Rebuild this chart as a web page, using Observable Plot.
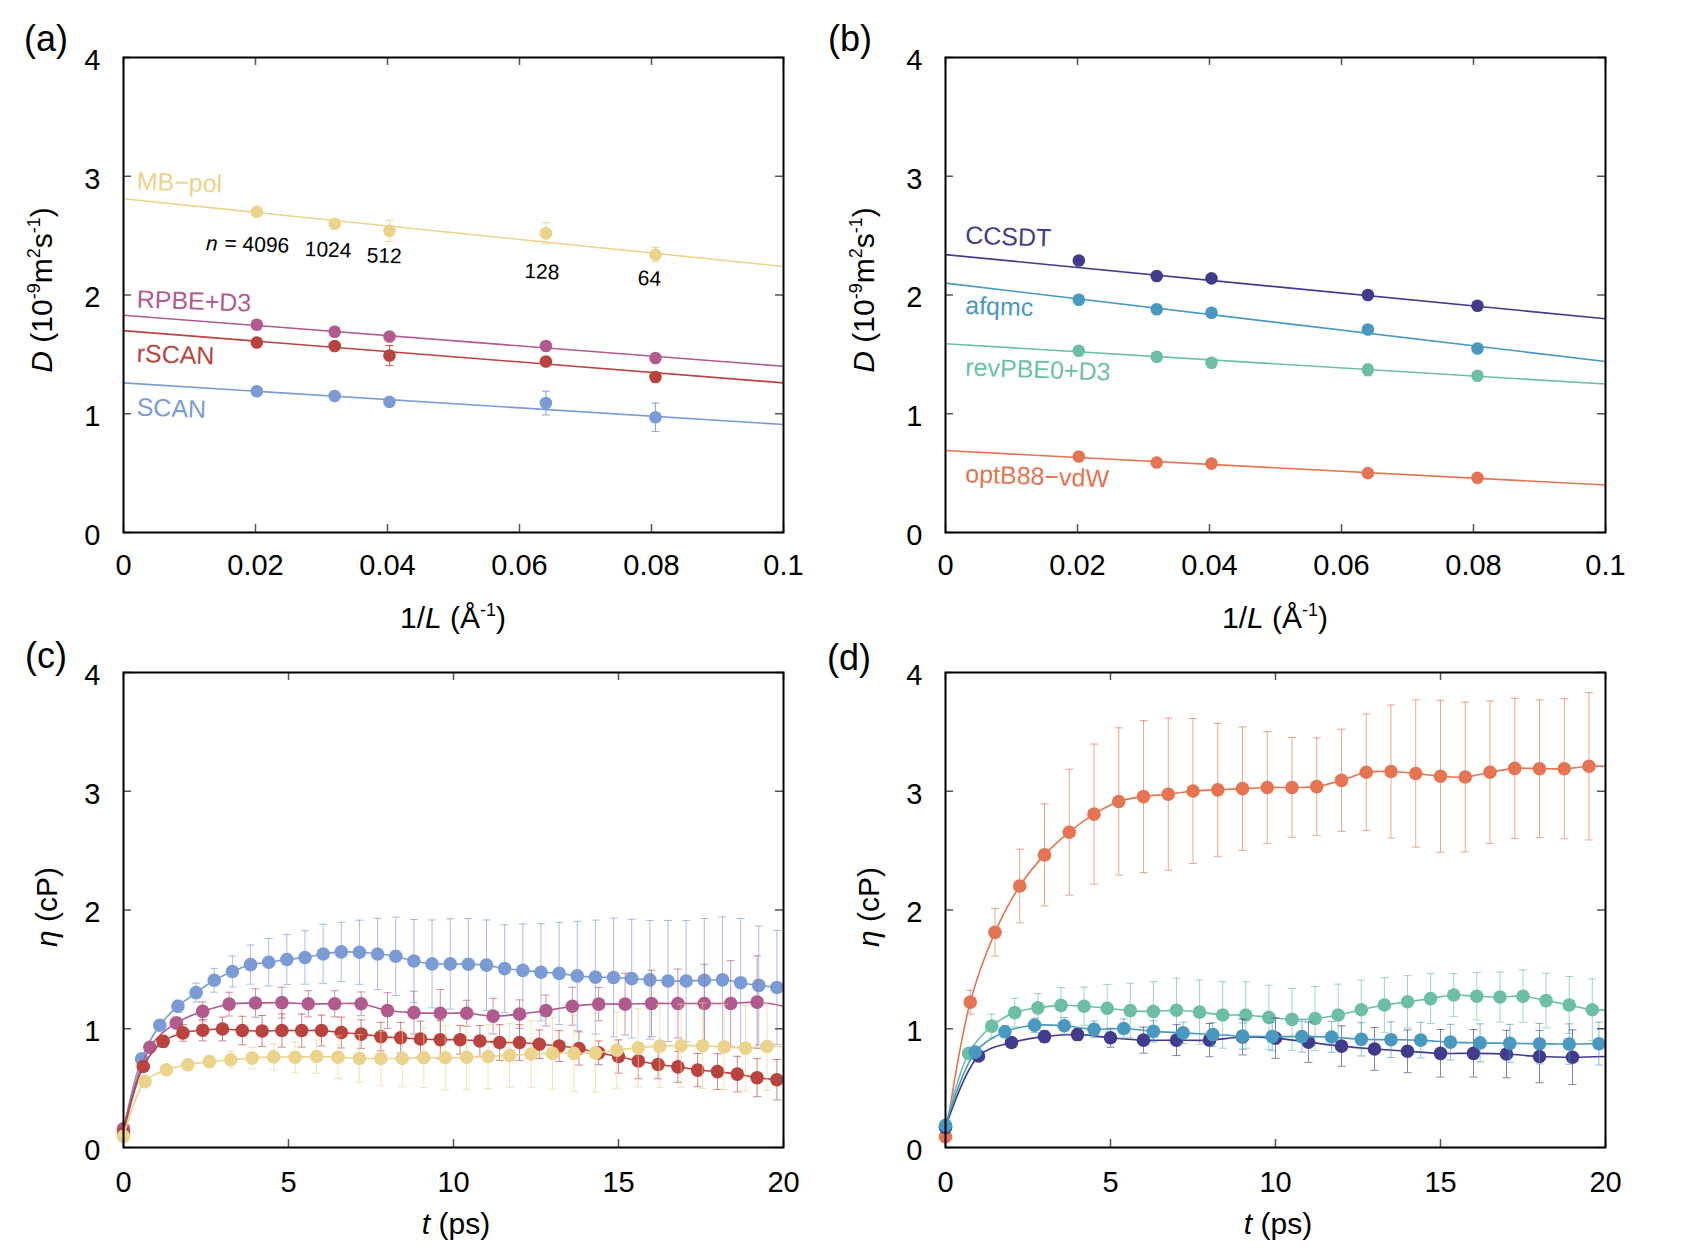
<!DOCTYPE html>
<html>
<head>
<meta charset="utf-8">
<script src="https://cdn.jsdelivr.net/npm/d3@7"></script>
<script src="https://cdn.jsdelivr.net/npm/@observablehq/plot@0.6"></script>
<style>
  html, body { margin: 0; padding: 0; background: #fff; }
  #fig { position: relative; width: 1700px; height: 1252px; font-family: "Liberation Sans", Arial, Helvetica, sans-serif; }
  .panel { position: absolute; }
  #overlay { position: absolute; left: 0; top: 0; pointer-events: none; }
</style>
</head>
<body>
<div id="fig"></div>
<script>
// ---------------- DATA ----------------
// panels (a),(b): diffusion coefficient vs 1/L
const invL = [0.0202, 0.0320, 0.0403, 0.0640, 0.0806];
const nLabels = ["4096", "1024", "512", "128", "64"];
const nLabelX = [0.0202, 0.031, 0.0395, 0.0634, 0.0797];
const nLabelY = [2.423, 2.379, 2.328, 2.194, 2.137];
const fitX = [0, 0.1];
const xTicksAB = [0, 0.02, 0.04, 0.06, 0.08, 0.1];
const yTicks = [0, 1, 2, 3, 4];
const xTicksCD = [0, 5, 10, 15, 20];

const namesA = ["MB\u2212pol", "RPBE+D3", "rSCAN", "SCAN"];
const colorsA = ["#ebd38b", "#b05a8e", "#b8433f", "#7b9bd5"];
const mbpolD = [2.70, 2.60, 2.54, 2.52, 2.34];
const mbpolDErr = [0.02, 0.03, 0.09, 0.09, 0.06];
const mbpolFit = [2.81, 2.24];
const rpbeD = [1.75, 1.69, 1.65, 1.57, 1.47];
const rpbeDErr = [0.02, 0.02, 0.02, 0.02, 0.02];
const rpbeFit = [1.83, 1.40];
const rscanD = [1.60, 1.57, 1.49, 1.44, 1.31];
const rscanDErr = [0.02, 0.02, 0.085, 0.03, 0.04];
const rscanFit = [1.70, 1.26];
const scanD = [1.19, 1.15, 1.10, 1.09, 0.97];
const scanDErr = [0.02, 0.02, 0.02, 0.10, 0.12];
const scanFit = [1.26, 0.91];
const labelAX = [0.002, 0.002, 0.002, 0.002];
const labelAY = [2.956, 1.962, 1.505, 1.053];

const namesB = ["CCSDT", "afqmc", "revPBE0+D3", "optB88\u2212vdW"];
const colorsB = ["#403c8b", "#4898c0", "#6cbfa6", "#e57452"];
const ccsdtD = [2.29, 2.16, 2.14, 2.00, 1.91];
const ccsdtDErr = [0.02, 0.02, 0.02, 0.02, 0.02];
const ccsdtFit = [2.34, 1.80];
const afqmcD = [1.96, 1.88, 1.85, 1.71, 1.55];
const afqmcDErr = [0.02, 0.02, 0.02, 0.03, 0.02];
const afqmcFit = [2.10, 1.44];
const revpbe0D = [1.53, 1.48, 1.43, 1.37, 1.32];
const revpbe0DErr = [0.02, 0.02, 0.02, 0.05, 0.02];
const revpbe0Fit = [1.59, 1.25];
const optb88D = [0.64, 0.59, 0.58, 0.50, 0.46];
const optb88DErr = [0.02, 0.02, 0.02, 0.02, 0.03];
const optb88Fit = [0.69, 0.40];
const labelBX = [0.003, 0.003, 0.003, 0.003];
const labelBY = [2.50, 1.91, 1.39, 0.49];

// panel (c): viscosity vs time
const scanT = [0,0.55,1.1,1.65,2.2,2.75,3.3,3.85,4.4,4.95,5.5,6.05,6.6,7.15,7.7,8.25,8.8,9.35,9.9,10.45,11,11.55,12.1,12.65,13.2,13.75,14.3,14.85,15.4,15.95,16.5,17.05,17.6,18.15,18.7,19.25,19.8,20];
const scanEta = [0.15,0.746,1.029,1.19,1.304,1.408,1.482,1.54,1.56,1.583,1.60,1.63,1.647,1.644,1.63,1.61,1.57,1.546,1.546,1.543,1.536,1.506,1.492,1.476,1.466,1.445,1.435,1.432,1.422,1.412,1.402,1.402,1.408,1.412,1.388,1.365,1.348,1.338];
const scanEtaErr = [0,0.02,0.03,0.05,0.08,0.10,0.13,0.165,0.20,0.21,0.225,0.25,0.25,0.27,0.30,0.33,0.35,0.37,0.38,0.385,0.38,0.37,0.39,0.41,0.43,0.46,0.48,0.50,0.50,0.50,0.51,0.51,0.52,0.53,0.54,0.50,0.48];

const rpbeT = [0,0.8,1.6,2.4,3.2,4.0,4.8,5.6,6.4,7.2,8.0,8.8,9.6,10.4,11.2,12.0,12.8,13.6,14.4,15.2,16.0,16.8,17.6,18.4,19.2,20];
const rpbeEta = [0.158,0.844,1.049,1.146,1.207,1.217,1.22,1.21,1.21,1.21,1.153,1.136,1.13,1.13,1.106,1.123,1.153,1.19,1.207,1.207,1.213,1.213,1.213,1.213,1.224,1.19];
const rpbeEtaErr = [0,0.03,0.05,0.08,0.10,0.12,0.13,0.11,0.11,0.10,0.15,0.18,0.20,0.11,0.15,0.12,0.13,0.16,0.14,0.26,0.28,0.29,0.33,0.36,0.39];

const rscanT = [0,0.6,1.2,1.8,2.4,3.0,3.6,4.2,4.8,5.4,6.0,6.6,7.2,7.8,8.4,9.0,9.6,10.2,10.8,11.4,12.0,12.6,13.2,13.8,14.4,15.0,15.6,16.2,16.8,17.4,18.0,18.6,19.2,19.8,20];
const rscanEta = [0.12,0.682,0.894,0.965,0.988,0.998,0.985,0.981,0.985,0.985,0.985,0.968,0.955,0.934,0.924,0.914,0.908,0.908,0.897,0.884,0.884,0.87,0.854,0.834,0.797,0.766,0.729,0.699,0.679,0.652,0.639,0.618,0.588,0.571,0.565];
const rscanEtaErr = [0,0.03,0.05,0.07,0.09,0.10,0.12,0.13,0.14,0.14,0.13,0.13,0.12,0.12,0.13,0.15,0.16,0.12,0.13,0.15,0.15,0.12,0.13,0.14,0.10,0.14,0.15,0.12,0.13,0.14,0.15,0.15,0.16,0.17];

const mbpolT = [0,0.65,1.3,1.95,2.6,3.25,3.9,4.55,5.2,5.85,6.5,7.15,7.8,8.45,9.1,9.75,10.4,11.05,11.7,12.35,13.0,13.65,14.3,14.95,15.6,16.25,16.9,17.55,18.2,18.85,19.5,20];
const mbpolEta = [0.094,0.555,0.655,0.696,0.723,0.739,0.753,0.763,0.76,0.766,0.76,0.75,0.75,0.75,0.756,0.756,0.76,0.766,0.776,0.787,0.793,0.793,0.797,0.82,0.84,0.854,0.857,0.857,0.847,0.837,0.85,0.85];
const mbpolEtaErr = [0,0.02,0.03,0.04,0.05,0.07,0.09,0.11,0.13,0.14,0.18,0.20,0.23,0.24,0.25,0.27,0.27,0.27,0.27,0.28,0.30,0.32,0.33,0.32,0.33,0.35,0.35,0.36,0.36,0.36,0.37];

// panel (d)
const optT = [0,0.75,1.5,2.25,3.0,3.75,4.5,5.25,6.0,6.75,7.5,8.25,9.0,9.75,10.5,11.25,12.0,12.75,13.5,14.25,15.0,15.75,16.5,17.25,18.0,18.75,19.5,20];
const optEta = [0.09,1.224,1.812,2.202,2.464,2.655,2.807,2.914,2.955,2.975,3.002,3.012,3.022,3.032,3.032,3.039,3.092,3.16,3.166,3.15,3.126,3.12,3.16,3.193,3.19,3.19,3.21,3.21];
const optEtaErr = [0,0.10,0.20,0.31,0.43,0.53,0.59,0.62,0.64,0.64,0.61,0.56,0.52,0.47,0.42,0.41,0.43,0.49,0.56,0.62,0.64,0.63,0.60,0.59,0.58,0.59,0.62];

const revT = [0,0.7,1.4,2.1,2.8,3.5,4.2,4.9,5.6,6.3,7.0,7.7,8.4,9.1,9.8,10.5,11.2,11.9,12.6,13.3,14.0,14.7,15.4,16.1,16.8,17.5,18.2,18.9,19.6,20];
const revEta = [0.18,0.793,1.022,1.136,1.176,1.197,1.19,1.173,1.153,1.146,1.156,1.14,1.116,1.116,1.096,1.079,1.086,1.116,1.16,1.2,1.227,1.254,1.284,1.274,1.267,1.274,1.237,1.2,1.16,1.157];
const revEtaErr = [0,0.03,0.10,0.12,0.12,0.15,0.16,0.20,0.23,0.25,0.27,0.27,0.28,0.28,0.27,0.26,0.27,0.26,0.25,0.23,0.22,0.21,0.18,0.20,0.21,0.22,0.23,0.24,0.26];

const afqT = [0,0.9,1.8,2.7,3.6,4.5,5.4,6.3,7.2,8.1,9.0,9.9,10.8,11.7,12.6,13.5,14.4,15.3,16.2,17.1,18.0,18.9,19.8,20];
const afqEta = [0.185,0.803,0.975,1.029,1.025,0.995,1.002,0.978,0.965,0.951,0.938,0.934,0.934,0.931,0.911,0.908,0.904,0.887,0.881,0.877,0.874,0.871,0.874,0.875];
const afqEtaErr = [0,0.03,0.05,0.06,0.07,0.07,0.08,0.09,0.09,0.10,0.11,0.12,0.13,0.13,0.14,0.15,0.15,0.15,0.16,0.16,0.17,0.17,0.18];

const ccsdtT = [0,1,2,3,4,5,6,7,8,9,10,11,12,13,14,15,16,17,18,19,20];
const ccsdtEta = [0.168,0.77,0.884,0.934,0.951,0.924,0.904,0.904,0.904,0.93,0.921,0.887,0.854,0.83,0.81,0.793,0.793,0.787,0.766,0.76,0.766];
const ccsdtEtaErr = [0,0.03,0.04,0.05,0.05,0.08,0.11,0.13,0.14,0.15,0.17,0.17,0.17,0.18,0.18,0.2,0.2,0.2,0.22,0.23];

// ---------------- HELPERS ----------------
const FONT = "'Liberation Sans', Arial, Helvetica, sans-serif";
const W = 850, H = 626;
const TICKFS = 29;
const cap = { draw(ctx, size) { const w = Math.sqrt(size / Math.PI); ctx.moveTo(-w, 0); ctx.lineTo(w, 0); } };

function rows(xs, ys, es) { return ys.map((y, i) => ({ x: xs[i], y, e: es ? (es[i] ?? 0) : 0 })); }

function errMarks(data, color, op) {
  const e = data.filter(d => d.e > 0);
  return [
    Plot.ruleX(e, { x: "x", y1: d => d.y - d.e, y2: d => d.y + d.e, stroke: color, strokeOpacity: op, strokeWidth: 1 }),
    Plot.dot(e, { x: "x", y: d => d.y - d.e, symbol: cap, r: 4, stroke: color, strokeOpacity: op, fill: "none", strokeWidth: 1 }),
    Plot.dot(e, { x: "x", y: d => d.y + d.e, symbol: cap, r: 4, stroke: color, strokeOpacity: op, fill: "none", strokeWidth: 1 })
  ];
}

function frameMarks(xTicks, innerW, innerH, xFmt, padX) {
  return [
    Plot.tickX(xTicks, { x: d => d, insetTop: innerH - 8, stroke: "#555", strokeWidth: 1.5 }),
    Plot.tickX(xTicks, { x: d => d, insetBottom: innerH - 8, stroke: "#555", strokeWidth: 1.5 }),
    Plot.tickY(yTicks, { y: d => d, insetRight: innerW - 8, stroke: "#555", strokeWidth: 1.5 }),
    Plot.tickY(yTicks, { y: d => d, insetLeft: innerW - 8, stroke: "#555", strokeWidth: 1.5 }),
    Plot.axisX(xTicks, { tickSize: 0, tickPadding: padX, tickFormat: xFmt, label: null, fontSize: TICKFS, fill: "#000" }),
    Plot.axisY(yTicks, { tickSize: 0, tickPadding: 23, tickFormat: d => String(d), label: null, fontSize: TICKFS, fill: "#000", dy: 3 }),
    Plot.frame({ stroke: "#000", strokeWidth: 2 })
  ];
}

function makePlot(opts) {
  const innerW = W - opts.ml - opts.mr, innerH = H - opts.mt - opts.mb;
  return Plot.plot({
    width: W, height: H,
    marginLeft: opts.ml, marginRight: opts.mr, marginTop: opts.mt, marginBottom: opts.mb,
    x: { domain: opts.xDomain },
    y: { domain: [0, 4] },
    style: { fontFamily: FONT, fontSize: TICKFS + "px", background: "transparent", overflow: "visible", color: "#000" },
    marks: [...opts.marks, ...frameMarks(opts.xTicks, innerW, innerH, opts.xFmt, opts.padX)]
  });
}

function place(el, left, top) {
  const d = document.createElement("div");
  d.className = "panel"; d.style.left = left + "px"; d.style.top = top + "px";
  d.appendChild(el); document.getElementById("fig").appendChild(d);
}

// ---------------- PANEL (a) ----------------
const aSeries = [
  { D: mbpolD, err: mbpolDErr, fit: mbpolFit },
  { D: rpbeD, err: rpbeDErr, fit: rpbeFit },
  { D: rscanD, err: rscanDErr, fit: rscanFit },
  { D: scanD, err: scanDErr, fit: scanFit }
];
const aMarks = [];
aSeries.forEach((s, i) => {
  const c = colorsA[i];
  const pts = rows(invL, s.D, s.err);
  aMarks.push(Plot.line(rows(fitX, s.fit), { x: "x", y: "y", stroke: c, strokeWidth: 1.6 }));
  aMarks.push(...errMarks(pts, c, 0.9));
  aMarks.push(Plot.dot(pts, { x: "x", y: "y", r: 6.3, fill: c }));
  aMarks.push(Plot.text([namesA[i]], { x: labelAX[i], y: labelAY[i], text: d => d, textAnchor: "start", fill: c, fontSize: 25, rotate: 2 }));
});
const nRows = nLabels.map((t, i) => ({ t: i === 0 ? "= " + t : t, x: nLabelX[i], y: nLabelY[i] }));
aMarks.push(Plot.text(nRows, { x: "x", y: "y", text: "t", fill: "#000", fontSize: 21, rotate: 2 }));
aMarks.push(Plot.text(["n"], { x: nLabelX[0], y: nLabelY[0], text: d => d, dx: -45, dy: -1, fontStyle: "italic", fill: "#000", fontSize: 21, rotate: 2 }));
const fmtAB = d => String(d);
place(makePlot({ ml: 123, mr: 67, mt: 57, mb: 94, xDomain: [0, 0.1], xTicks: xTicksAB, xFmt: fmtAB, padX: 22, marks: aMarks }), 0, 0);

// ---------------- PANEL (b) ----------------
const bSeries = [
  { D: ccsdtD, err: ccsdtDErr, fit: ccsdtFit },
  { D: afqmcD, err: afqmcDErr, fit: afqmcFit },
  { D: revpbe0D, err: revpbe0DErr, fit: revpbe0Fit },
  { D: optb88D, err: optb88DErr, fit: optb88Fit }
];
const bMarks = [];
bSeries.forEach((s, i) => {
  const c = colorsB[i];
  const pts = rows(invL, s.D, s.err);
  bMarks.push(Plot.line(rows(fitX, s.fit), { x: "x", y: "y", stroke: c, strokeWidth: 1.6 }));
  bMarks.push(...errMarks(pts, c, 0.9));
  bMarks.push(Plot.dot(pts, { x: "x", y: "y", r: 6.3, fill: c }));
  bMarks.push(Plot.text([namesB[i]], { x: labelBX[i], y: labelBY[i], text: d => d, textAnchor: "start", fill: c, fontSize: 25, rotate: 2 }));
});
place(makePlot({ ml: 95, mr: 95, mt: 57, mb: 94, xDomain: [0, 0.1], xTicks: xTicksAB, xFmt: fmtAB, padX: 22, marks: bMarks }), 850, 0);

// ---------------- PANEL (c) ----------------
const cSeries = [
  { t: scanT, y: scanEta, e: scanEtaErr, c: colorsA[3] },
  { t: rpbeT, y: rpbeEta, e: rpbeEtaErr, c: colorsA[1] },
  { t: rscanT, y: rscanEta, e: rscanEtaErr, c: colorsA[2] },
  { t: mbpolT, y: mbpolEta, e: mbpolEtaErr, c: colorsA[0] }
];
function etaMarks(series) {
  const m = [];
  series.forEach(s => {
    const all = rows(s.t, s.y);
    const pts = rows(s.t.slice(0, s.e.length), s.y.slice(0, s.e.length), s.e);
    m.push(...errMarks(pts, s.c, 0.65));
    m.push(Plot.line(all, { x: "x", y: "y", stroke: s.c, strokeWidth: 1.6, curve: "catmull-rom" }));
    m.push(Plot.dot(pts, { x: "x", y: "y", r: 6.8, fill: s.c }));
  });
  return m;
}
place(makePlot({ ml: 123, mr: 67, mt: 46, mb: 105, xDomain: [0, 20], xTicks: xTicksCD, xFmt: d => String(d), padX: 24, marks: etaMarks(cSeries) }), 0, 626);

// ---------------- PANEL (d) ----------------
const dSeries = [
  { t: optT, y: optEta, e: optEtaErr, c: colorsB[3] },
  { t: revT, y: revEta, e: revEtaErr, c: colorsB[2] },
  { t: ccsdtT, y: ccsdtEta, e: ccsdtEtaErr, c: colorsB[0] },
  { t: afqT, y: afqEta, e: afqEtaErr, c: colorsB[1] }
];
place(makePlot({ ml: 95, mr: 95, mt: 46, mb: 105, xDomain: [0, 20], xTicks: xTicksCD, xFmt: d => String(d), padX: 24, marks: etaMarks(dSeries) }), 850, 626);

// ---------------- TEXT OVERLAY ----------------
const svg = d3.select("#fig").append("svg").attr("id", "overlay")
  .attr("width", 1700).attr("height", 1252)
  .style("font-family", FONT);

function rich(x, y, parts, rot, size) {
  const fs = size || 30;
  const t = svg.append("text")
    .attr("transform", `translate(${x},${y}) rotate(${rot || 0})`)
    .attr("text-anchor", "middle").attr("font-size", fs).attr("fill", "#000");
  let raised = false;
  parts.forEach(p => {
    const ts = t.append("tspan").text(p.t);
    if (p.i) ts.attr("font-style", "italic");
    if (p.sup) {
      ts.attr("font-size", fs * 0.6);
      if (!raised) { ts.attr("dy", -fs * 0.4); raised = true; }
    } else if (raised) { ts.attr("dy", fs * 0.4); raised = false; }
  });
}
const xLabAB = [{ t: "1/" }, { t: "L", i: true }, { t: " (Å" }, { t: "-1", sup: true }, { t: ")" }];
const yLabAB = [{ t: "D", i: true }, { t: " (10" }, { t: "-9", sup: true }, { t: "m" }, { t: "2", sup: true }, { t: "s" }, { t: "-1", sup: true }, { t: ")" }];
const xLabCD = [{ t: "t", i: true }, { t: " (ps)" }];
const yLabCD = [{ t: "η", i: true }, { t: " (cP)" }];

rich(453, 628, xLabAB, 0);
rich(1275, 628, xLabAB, 0);
rich(52, 290, yLabAB, -90);
rich(874, 290, yLabAB, -90);
rich(456, 1234, xLabCD, 0);
rich(1278, 1234, xLabCD, 0);
rich(57, 907, yLabCD, -90);
rich(879, 907, yLabCD, -90);

const panelLabels = ["(a)", "(b)", "(c)", "(d)"];
const panelPos = [[46, 51], [850, 51], [46, 668], [849, 670]];
panelLabels.forEach((l, i) => rich(panelPos[i][0], panelPos[i][1], [{ t: l }], 0, 36));
</script>
</body>
</html>
